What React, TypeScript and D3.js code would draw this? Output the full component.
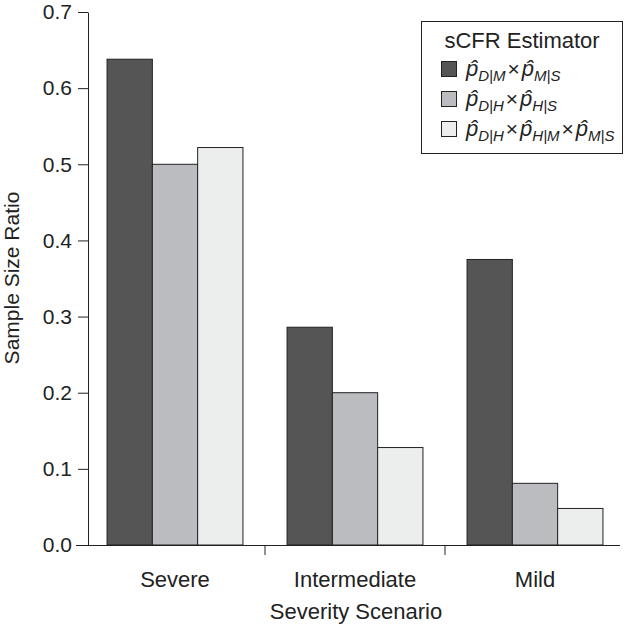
import React, { useEffect, useRef } from "react";
import * as d3 from "d3";

const scenarios = ["Severe", "Intermediate", "Mild"];
const estimators = ["DM_MS", "DH_HS", "DH_HM_MS"];
const severeValues = [0.638, 0.5, 0.522];
const intermediateValues = [0.286, 0.2, 0.128];
const mildValues = [0.375, 0.081, 0.048];
const yTicks = [0, 0.1, 0.2, 0.3, 0.4, 0.5, 0.6, 0.7];
// each legend entry: list of [base, subscript]
const legendTerms = [
  [["p\u0302", "D|M"], ["p\u0302", "M|S"]],
  [["p\u0302", "D|H"], ["p\u0302", "H|S"]],
  [["p\u0302", "D|H"], ["p\u0302", "H|M"], ["p\u0302", "M|S"]],
];
const fills = ["#555555", "#bbbcbf", "#eceeed"];

const FONT = "'Liberation Sans', Arial, Helvetica, sans-serif";

export default function App() {
  const ref = useRef<SVGSVGElement>(null);

  useEffect(() => {
    const svg = d3.select(ref.current);
    svg.selectAll("*").remove();

    const values = [severeValues, intermediateValues, mildValues];
    const data = scenarios.map((s, i) => ({ scenario: s, vals: values[i] }));

    const x0 = d3.scaleBand().domain(scenarios).range([85, 625]).paddingInner(0.245).paddingOuter(0.1225);
    const x1 = d3.scaleBand().domain(estimators).range([0, x0.bandwidth()]);
    const y = d3.scaleLinear().domain([0, 0.7]).range([545, 12]);

    // bars
    const groups = svg.selectAll("g.grp").data(data).enter().append("g")
      .attr("class", "grp")
      .attr("transform", d => `translate(${x0(d.scenario)},0)`);
    groups.selectAll("rect").data(d => d.vals.map((v, i) => ({ key: estimators[i], v, i })))
      .enter().append("rect")
      .attr("x", d => x1(d.key)!)
      .attr("y", d => y(d.v))
      .attr("width", x1.bandwidth())
      .attr("height", d => y(0) - y(d.v))
      .attr("fill", d => fills[d.i])
      .attr("stroke", "#222")
      .attr("stroke-width", 1);

    // y axis
    const yAxis = svg.append("g").attr("transform", "translate(88,0)")
      .call(d3.axisLeft(y).tickValues(yTicks).tickFormat(d3.format(".1f")).tickSize(10).tickSizeOuter(0));
    yAxis.select(".domain").attr("stroke", "#222");
    yAxis.selectAll(".tick line").attr("stroke", "#222");
    yAxis.selectAll(".tick text").attr("font-size", 21).attr("font-family", FONT).attr("fill", "#222").attr("x", -16);

    // x axis line
    svg.append("line").attr("x1", 76).attr("x2", 620).attr("y1", 545.5).attr("y2", 545.5).attr("stroke", "#222");
    const sepTicks = scenarios.slice(1).map(s => x0(s)! - (x0.step() - x0.bandwidth()) / 2);
    svg.selectAll("line.sep").data(sepTicks).enter().append("line")
      .attr("x1", d => d).attr("x2", d => d).attr("y1", 545).attr("y2", 555).attr("stroke", "#222");
    svg.selectAll("text.cat").data(scenarios).enter().append("text")
      .attr("x", d => x0(d)! + x0.bandwidth() / 2).attr("y", 587)
      .attr("text-anchor", "middle").attr("font-size", 22).attr("font-family", FONT).attr("fill", "#222")
      .text(d => d);

    svg.append("text").attr("x", 356).attr("y", 619).attr("text-anchor", "middle")
      .attr("font-size", 22).attr("font-family", FONT).attr("fill", "#222").text("Severity Scenario");
    svg.append("text").attr("transform", "translate(19,278) rotate(-90)").attr("text-anchor", "middle")
      .attr("font-size", 21).attr("font-family", FONT).attr("fill", "#222").text("Sample Size Ratio");

    // legend
    const lg = svg.append("g");
    lg.append("rect").attr("x", 421.5).attr("y", 21.5).attr("width", 201).attr("height", 132)
      .attr("fill", "white").attr("stroke", "#222");
    lg.append("text").attr("x", 522).attr("y", 48).attr("text-anchor", "middle")
      .attr("font-size", 22).attr("font-family", FONT).attr("fill", "#222").text("sCFR Estimator");
    const rowY = [69, 99, 129];
    legendTerms.forEach((terms, i) => {
      lg.append("rect").attr("x", 441.5).attr("y", rowY[i] - 7.5).attr("width", 15).attr("height", 15)
        .attr("fill", fills[i]).attr("stroke", "#222");
      const t = lg.append("text").attr("x", 466).attr("y", rowY[i] + 7)
        .attr("font-size", 22).attr("font-family", FONT).attr("fill", "#222");
      terms.forEach((term, j) => {
        if (j > 0) t.append("tspan").attr("dy", -5).attr("dx", 2).attr("font-style", "normal").attr("font-size", 21).text("\u00d7");
        t.append("tspan").attr("dx", j > 0 ? 2 : 0).attr("font-style", "italic").text(term[0]);
        t.append("tspan").attr("dy", 5).attr("font-style", "italic").attr("font-size", 15).text(term[1]);
      });
    });
  }, []);

  return (
    <svg ref={ref} width={625} height={625} style={{ position: "absolute", left: 0, top: 0, background: "white" }} />
  );
}
